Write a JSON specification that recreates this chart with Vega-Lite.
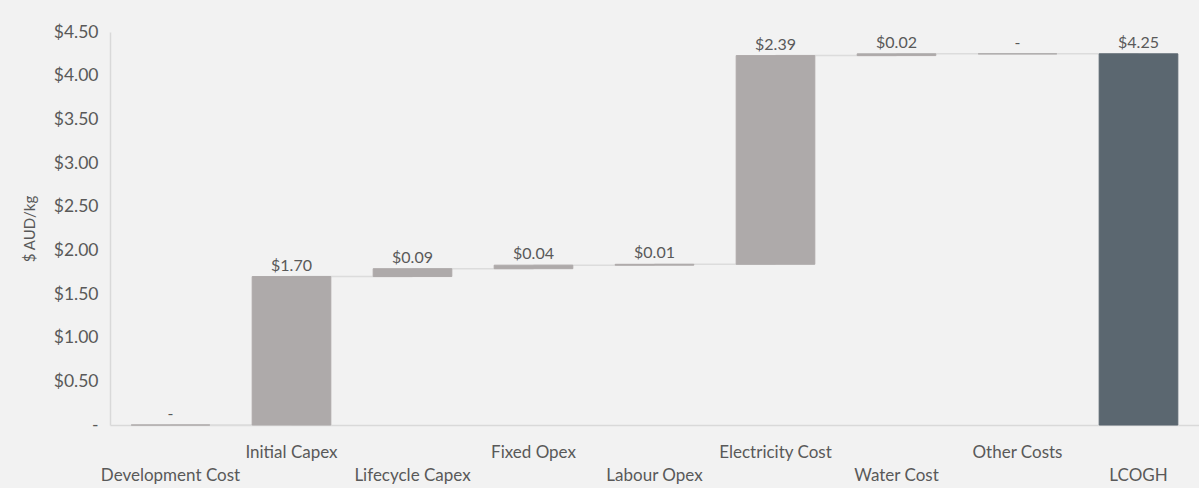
{
  "$schema": "https://vega.github.io/schema/vega-lite/v6.json",
  "width": 1089,
  "height": 393,
  "autosize": {"type": "none"},
  "padding": {"left": 110, "top": 32, "right": 0, "bottom": 63},
  "background": "#f2f2f2",
  "config": {"view": {"stroke": null}, "font": "Lato"},
  "data": {
    "values": [
      {"category": "Development Cost", "amount": 0.0, "start": 0.0, "end": 0.0, "kind": "step", "next": "Initial Capex"},
      {"category": "Initial Capex", "amount": 1.70, "start": 0.0, "end": 1.70, "kind": "step", "next": "Lifecycle Capex"},
      {"category": "Lifecycle Capex", "amount": 0.09, "start": 1.70, "end": 1.79, "kind": "step", "next": "Fixed Opex"},
      {"category": "Fixed Opex", "amount": 0.04, "start": 1.79, "end": 1.83, "kind": "step", "next": "Labour Opex"},
      {"category": "Labour Opex", "amount": 0.01, "start": 1.83, "end": 1.84, "kind": "step", "next": "Electricity Cost"},
      {"category": "Electricity Cost", "amount": 2.39, "start": 1.84, "end": 4.23, "kind": "step", "next": "Water Cost"},
      {"category": "Water Cost", "amount": 0.02, "start": 4.23, "end": 4.25, "kind": "step", "next": "Other Costs"},
      {"category": "Other Costs", "amount": 0.0, "start": 4.25, "end": 4.25, "kind": "step", "next": "LCOGH"},
      {"category": "LCOGH", "amount": 4.25, "start": 0.0, "end": 4.25, "kind": "total", "next": null}
    ]
  },
  "layer": [
    {
      "transform": [{"filter": "datum.next != null"}],
      "mark": {"type": "rule", "color": "#dcdcdc", "strokeWidth": 1.5},
      "encoding": {
        "x": {"field": "category", "type": "nominal", "sort": null, "bandPosition": 0.5},
        "x2": {"field": "next", "bandPosition": 0.5},
        "y": {"field": "end", "type": "quantitative"}
      }
    },
    {
      "mark": {"type": "bar", "strokeWidth": 1},
      "encoding": {
        "x": {
          "field": "category",
          "type": "nominal",
          "sort": null,
          "scale": {"paddingInner": 0.35, "paddingOuter": 0.175},
          "axis": {
            "title": null,
            "ticks": false,
            "domainColor": "#d9d9d9",
            "domainWidth": 1.5,
            "labelColor": "#595959",
            "labelFontSize": 17,
            "labelAngle": 0,
            "labelAlign": "center",
            "labelBaseline": "top",
            "labelOverlap": false,
            "labelLimit": 0,
            "labelPadding": {
              "condition": {
                "test": "indexof(['Development Cost','Lifecycle Capex','Labour Opex','Water Cost','LCOGH'], datum.value) >= 0",
                "value": 42
              },
              "value": 19
            }
          }
        },
        "y": {
          "field": "start",
          "type": "quantitative",
          "scale": {"domain": [0, 4.5], "nice": false},
          "axis": {
            "title": "$ AUD/kg",
            "values": [0, 0.5, 1, 1.5, 2, 2.5, 3, 3.5, 4, 4.5],
            "labelExpr": "datum.value == 0 ? '-' : '$' + format(datum.value, '.2f')",
            "grid": false,
            "ticks": false,
            "domainColor": "#d9d9d9",
            "domainWidth": 1.5,
            "labelColor": "#595959",
            "labelFontSize": 17.5,
            "labelPadding": 12,
            "titleColor": "#595959",
            "titleFontSize": 15,
            "titleFontWeight": "normal",
            "titlePadding": 16
          }
        },
        "y2": {"field": "end"},
        "color": {
          "field": "kind",
          "type": "nominal",
          "scale": {"domain": ["step", "total"], "range": ["#aeaaaa", "#5b6770"]},
          "legend": null
        },
        "stroke": {
          "field": "kind",
          "type": "nominal",
          "scale": {"domain": ["step", "total"], "range": ["#aeaaaa", "#5b6770"]},
          "legend": null
        }
      }
    },
    {
      "transform": [
        {"calculate": "datum.amount == 0 ? '-' : '$' + format(datum.amount, '.2f')", "as": "label"}
      ],
      "mark": {"type": "text", "baseline": "bottom", "dy": -3, "fontSize": 16, "color": "#595959"},
      "encoding": {
        "x": {"field": "category", "type": "nominal", "sort": null},
        "y": {"field": "end", "type": "quantitative"},
        "text": {"field": "label"}
      }
    }
  ]
}
